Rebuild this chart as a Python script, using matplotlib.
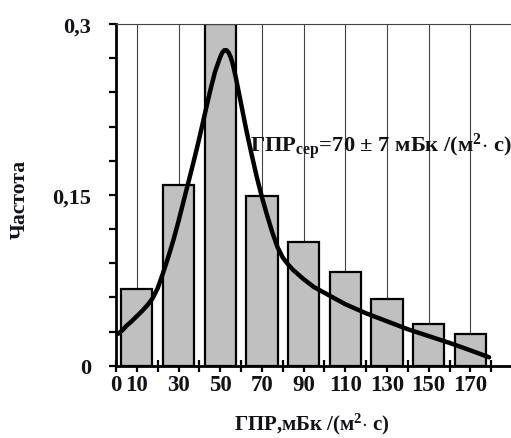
import numpy as np
import matplotlib.pyplot as plt
from matplotlib.ticker import MultipleLocator, FixedLocator

# Гистограмма частот ГПР
bin_centers = [10, 30, 50, 70, 90, 110, 130, 150, 170]
freq = [0.067, 0.159, 0.30, 0.149, 0.109, 0.082, 0.0585, 0.037, 0.028]

# Аппроксимирующая кривая
curve_x = [1, 3, 5, 7.5, 10, 12.5, 15, 17.5, 20, 22.5, 25, 27.5, 30, 32.5, 35,
           37.5, 40, 42.5, 45, 47.5, 50, 51, 52, 53, 54, 55, 56, 57.5, 60, 62.5,
           65, 67.5, 70, 72.5, 75, 77.5, 80, 82.5, 85, 90, 95, 100, 110, 120,
           130, 140, 150, 160, 170, 179]
curve_y = [0.028, 0.031, 0.035, 0.039, 0.0435, 0.048, 0.053, 0.059, 0.068, 0.081,
           0.095, 0.110, 0.127, 0.145, 0.163, 0.181, 0.200, 0.220, 0.240, 0.258,
           0.271, 0.275, 0.277, 0.277, 0.275, 0.271, 0.265, 0.253, 0.230, 0.207,
           0.186, 0.166, 0.148, 0.132, 0.117, 0.104, 0.095, 0.089, 0.084, 0.076,
           0.069, 0.064, 0.054, 0.046, 0.039, 0.032, 0.026, 0.020, 0.0135, 0.0074]

x_ticks = list(range(0, 190, 10))
x_labels = ['0', '10', '', '30', '', '50', '', '70', '', '90', '', '110', '',
            '130', '', '150', '', '170', '']

TXT = '#111118'
plt.rcParams['font.family'] = ['Liberation Serif', 'DejaVu Serif']
plt.rcParams['font.weight'] = 'bold'
plt.rcParams['mathtext.fontset'] = 'custom'
plt.rcParams['mathtext.rm'] = 'Liberation Serif:bold'
plt.rcParams['mathtext.bf'] = 'Liberation Serif:bold'
plt.rcParams['mathtext.it'] = 'Liberation Serif:bold'

fig = plt.figure(figsize=(5.11, 4.39), dpi=100)
ax = fig.add_axes([116 / 511, 72.3 / 439, 1 - 116 / 511, 341.7 / 439])

# вертикальная сетка
for gx in range(10, 200, 20):
    ax.axvline(gx, color='#444444', lw=0.8, zorder=0)

ax.bar(bin_centers, freq, width=15, color='#c0c0c0', edgecolor='black',
       linewidth=1.6, zorder=2)
ax.plot(curve_x, curve_y, color='black', lw=3.2, zorder=3,
        solid_capstyle='round', solid_joinstyle='round')

ax.set_xlim(0, 189.5)
ax.set_ylim(0, 0.3)

ax.xaxis.set_major_locator(FixedLocator(x_ticks))
ax.set_xticklabels(x_labels)
ax.yaxis.set_major_locator(FixedLocator([0, 0.15, 0.3]))
ax.set_yticklabels(['0', '0,15', '0,3'])
ax.yaxis.set_minor_locator(MultipleLocator(0.03))

ax.tick_params(axis='x', direction='inout', length=8, width=1.6,
               labelsize=16.5, pad=2, labelcolor=TXT)
ax.tick_params(axis='y', which='both', direction='out', length=5, width=1.6,
               labelsize=16, pad=13, labelcolor=TXT)

for s in ['left', 'bottom']:
    ax.spines[s].set_linewidth(2)
ax.spines['top'].set_linewidth(0.8)
ax.spines['top'].set_color('#444444')
ax.spines['right'].set_visible(False)

ax.text(0.34, 0.645, r'ГПР$_{\rm сер}$=70 $\pm$ 7 мБк /(м$^{\rm 2}$$\cdot$ с)',
        transform=ax.transAxes, fontsize=16.2, color=TXT, ha='left', va='center',
        zorder=4)

fig.text(20 / 511, 1 - 199 / 439, 'Частота', rotation=90, fontsize=15.6,
         color=TXT, ha='center', va='center')
fig.text(312 / 511, 1 - 424 / 439, r'ГПР,мБк /(м$^{\rm 2}$$\cdot$ с)',
         fontsize=15, color=TXT, ha='center', va='center')

fig.savefig('out.png', dpi=100)
